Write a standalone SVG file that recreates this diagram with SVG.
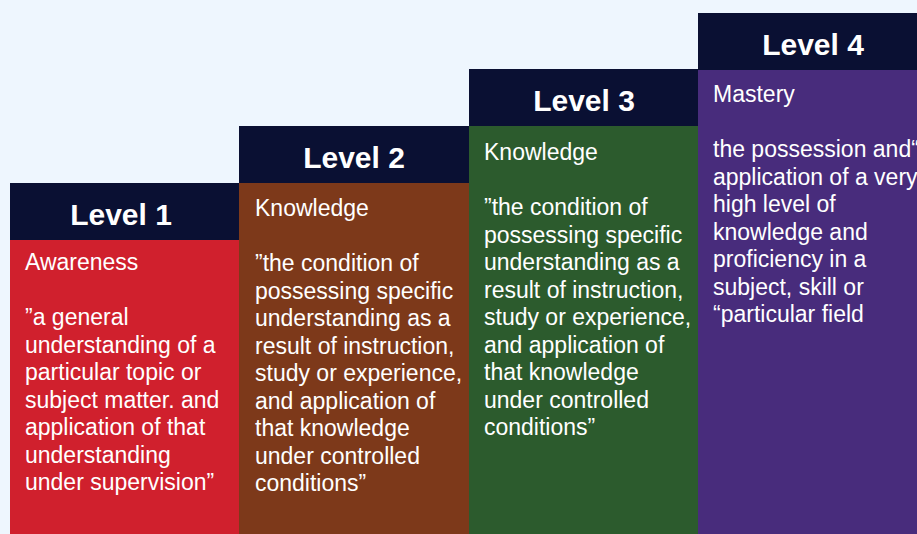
<svg xmlns="http://www.w3.org/2000/svg" width="917" height="534" viewBox="0 0 917 534">
<style>
.hd{fill:#0A1033}
.ht{font-family:"Liberation Sans",Arial,sans-serif;font-weight:bold;font-size:30px;fill:#fff;text-anchor:middle}
.bt{font-family:"Liberation Sans",Arial,sans-serif;font-size:23px;fill:#fff}
</style>
<rect width="917" height="534" fill="#EEF6FE"/>
<g id="level1">
<rect x="10" y="240" width="229" height="294" fill="#D0202D"/>
<rect class="hd" x="10" y="183" width="229" height="57"/>
<text class="ht" x="121" y="225">Level 1</text>
<text class="bt" x="25" y="270">Awareness</text>
<text class="bt" x="25" y="325">”a general</text>
<text class="bt" x="25" y="352.5">understanding of a</text>
<text class="bt" x="25" y="380">particular topic or</text>
<text class="bt" x="25" y="407.5">subject matter. and</text>
<text class="bt" x="25" y="435">application of that</text>
<text class="bt" x="25" y="462.5">understanding</text>
<text class="bt" x="25" y="490">under supervision”</text>
</g>
<g id="level2">
<rect x="239" y="183" width="230" height="351" fill="#7D391A"/>
<rect class="hd" x="239" y="126" width="230" height="57"/>
<text class="ht" x="354" y="168">Level 2</text>
<text class="bt" x="255" y="216">Knowledge</text>
<text class="bt" x="255" y="271">”the condition of</text>
<text class="bt" x="255" y="298.5">possessing specific</text>
<text class="bt" x="255" y="326">understanding as a</text>
<text class="bt" x="255" y="353.5">result of instruction,</text>
<text class="bt" x="255" y="381">study or experience,</text>
<text class="bt" x="255" y="408.5">and application of</text>
<text class="bt" x="255" y="436">that knowledge</text>
<text class="bt" x="255" y="463.5">under controlled</text>
<text class="bt" x="255" y="491">conditions”</text>
</g>
<g id="level3">
<rect x="469" y="126" width="229" height="408" fill="#2C5B2D"/>
<rect class="hd" x="469" y="69" width="229" height="57"/>
<text class="ht" x="584" y="111">Level 3</text>
<text class="bt" x="484" y="160">Knowledge</text>
<text class="bt" x="484" y="215">”the condition of</text>
<text class="bt" x="484" y="242.5">possessing specific</text>
<text class="bt" x="484" y="270">understanding as a</text>
<text class="bt" x="484" y="297.5">result of instruction,</text>
<text class="bt" x="484" y="325">study or experience,</text>
<text class="bt" x="484" y="352.5">and application of</text>
<text class="bt" x="484" y="380">that knowledge</text>
<text class="bt" x="484" y="407.5">under controlled</text>
<text class="bt" x="484" y="435">conditions”</text>
</g>
<g id="level4">
<rect x="698" y="70" width="219" height="464" fill="#482C7C"/>
<rect class="hd" x="698" y="13" width="219" height="57"/>
<text class="ht" x="813" y="55">Level 4</text>
<text class="bt" x="713" y="102">Mastery</text>
<text class="bt" x="713" y="157">the possession and“</text>
<text class="bt" x="713" y="184.5">application of a very</text>
<text class="bt" x="713" y="212">high level of</text>
<text class="bt" x="713" y="239.5">knowledge and</text>
<text class="bt" x="713" y="267">proficiency in a</text>
<text class="bt" x="713" y="294.5">subject, skill or</text>
<text class="bt" x="713" y="322">“particular field</text>
</g>
<g id="connectors"/>
</svg>
